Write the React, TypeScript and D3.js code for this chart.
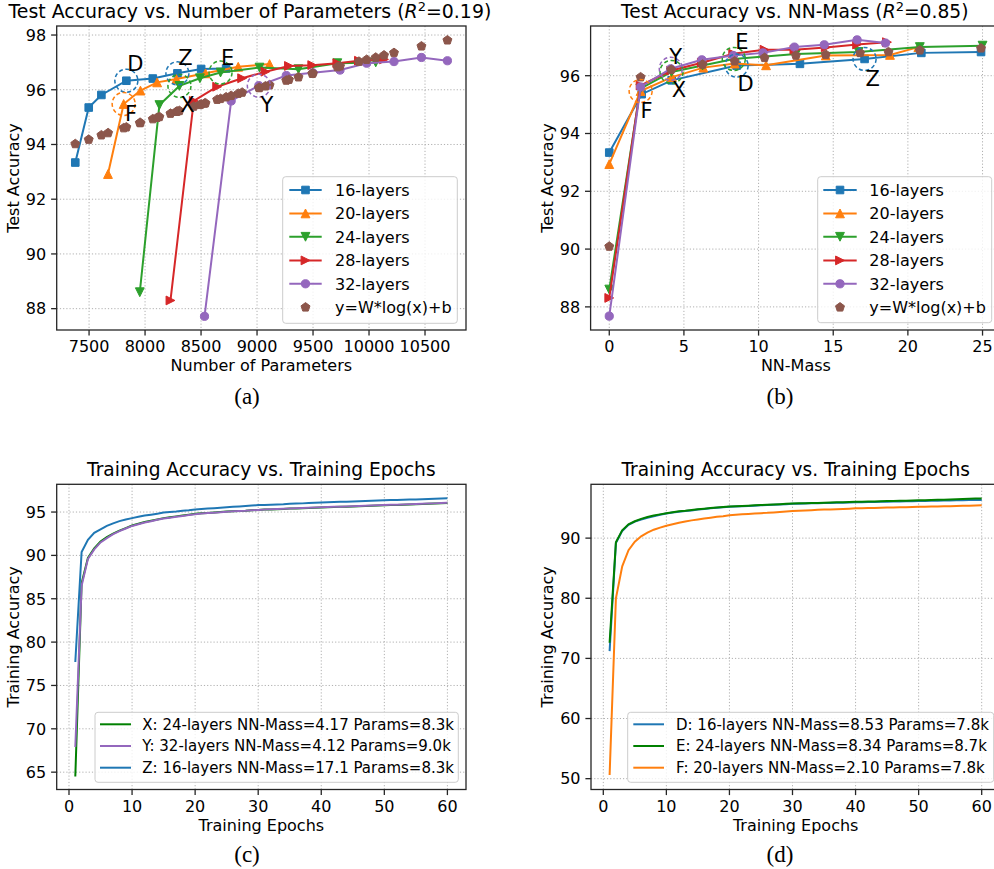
import React from 'react';
import * as d3 from 'd3';

// ---------- colours ----------
const BLUE = '#1f77b4', ORANGE = '#ff7f0e', GREEN = '#2ca02c', RED = '#d62728', PURPLE = '#9467bd', BROWN = '#8c564b', DGREEN = '#008000';

// ---------- (a) Test accuracy vs number of parameters ----------
const params16 = [7377, 7497, 7610, 7833, 8069, 8289, 8501, 8724];
const acc16a = [93.34, 95.35, 95.81, 96.33, 96.41, 96.6, 96.76, 96.78];
const params20 = [7669, 7809, 7959, 8108, 8280, 8540, 8832, 9112];
const acc20a = [92.92, 95.48, 95.97, 96.27, 96.39, 96.6, 96.84, 96.94];
const params24 = [7953, 8128, 8307, 8490, 8674, 9022, 9370, 9717, 10060];
const acc24a = [88.6, 95.44, 96.14, 96.42, 96.63, 96.81, 96.75, 96.97, 97.0];
const params28 = [8227, 8435, 8644, 8867, 9075, 9285, 9493, 9717, 9910, 10134];
const acc28a = [88.3, 95.59, 96.11, 96.42, 96.66, 96.87, 96.9, 96.97, 97.06, 97.11];
const params32 = [8531, 8769, 9016, 9261, 9499, 9741, 9979, 10223, 10468, 10700];
const acc32a = [87.72, 95.59, 96.15, 96.52, 96.62, 96.72, 96.97, 97.03, 97.18, 97.06];
const fitParamsA = [7377, 7497, 7610, 7670, 7809, 7833, 7953, 7959, 8069, 8108, 8128, 8227, 8280, 8289, 8307, 8435, 8490, 8501, 8531, 8540, 8644, 8674, 8724, 8769, 8832, 8867, 9016, 9022, 9075, 9112, 9261, 9285, 9370, 9493, 9499, 9717, 9741, 9910, 9979, 10060, 10134, 10223, 10468, 10700];
const fitAccA = [94.02, 94.18, 94.34, 94.42, 94.6, 94.63, 94.79, 94.79, 94.93, 94.98, 95.01, 95.13, 95.2, 95.21, 95.23, 95.39, 95.45, 95.47, 95.5, 95.51, 95.64, 95.67, 95.73, 95.78, 95.86, 95.9, 96.07, 96.07, 96.13, 96.17, 96.34, 96.37, 96.46, 96.59, 96.6, 96.83, 96.86, 97.03, 97.1, 97.18, 97.26, 97.35, 97.59, 97.81];
const xTicksA = [7500, 8000, 8500, 9000, 9500, 10000, 10500];
const yTicksA = [88, 90, 92, 94, 96, 98];

// ---------- (b) Test accuracy vs NN-Mass ----------
const mass16 = [0, 2.17, 4.18, 8.53, 12.77, 17.1, 20.9, 24.9];
const acc16b = [93.34, 95.36, 95.84, 96.35, 96.41, 96.58, 96.79, 96.82];
const mass20 = [0, 2.1, 4.2, 6.3, 8.4, 10.5, 14.5, 18.8, 20.7];
const acc20b = [92.94, 95.47, 95.95, 96.28, 96.42, 96.36, 96.7, 96.72, 96.99];
const mass24 = [0, 2.08, 4.17, 6.25, 8.34, 12.5, 16.7, 20.8, 25];
const acc24b = [88.6, 95.55, 96.13, 96.35, 96.58, 96.75, 96.82, 96.99, 97.04];
const mass28 = [0, 2.1, 4.15, 6.2, 8.3, 10.4, 12.4, 14.5, 16.6, 18.6];
const acc28b = [88.31, 95.66, 96.18, 96.45, 96.76, 96.9, 96.9, 96.98, 97.08, 97.16];
const mass32 = [0, 2.1, 4.12, 6.2, 8.3, 10.3, 12.4, 14.4, 16.6, 18.5];
const acc32b = [87.68, 95.61, 96.24, 96.55, 96.7, 96.79, 96.99, 97.07, 97.24, 97.13];
const fitMassB = [0, 2.1, 4.15, 6.25, 8.4, 10.4, 12.5, 14.5, 16.8, 18.7, 20.8, 24.9];
const fitAccB = [90.09, 95.95, 96.21, 96.39, 96.5, 96.62, 96.7, 96.73, 96.79, 96.82, 96.88, 96.95];
const xTicksB = [0, 5, 10, 15, 20, 25];
const yTicksB = [88, 90, 92, 94, 96];

// ---------- (c) training curves X, Y, Z ----------
const epochs = d3.range(1, 61);
const trainX = [64.5, 86.8, 89.7, 90.8, 91.6, 92.1, 92.5, 92.85, 93.15, 93.45, 93.65, 93.85, 94.0, 94.15, 94.3, 94.4, 94.5, 94.6, 94.7, 94.8, 94.85, 94.9, 94.95, 95.0, 95.05, 95.1, 95.12, 95.15, 95.2, 95.25, 95.28, 95.3, 95.33, 95.36, 95.4, 95.42, 95.45, 95.48, 95.5, 95.53, 95.55, 95.58, 95.6, 95.62, 95.65, 95.68, 95.7, 95.72, 95.75, 95.78, 95.8, 95.82, 95.85, 95.88, 95.9, 95.92, 95.95, 95.98, 96.0, 96.05];
const trainY = [67.9, 86.5, 89.6, 90.7, 91.5, 92.0, 92.45, 92.8, 93.1, 93.4, 93.6, 93.8, 93.95, 94.1, 94.25, 94.35, 94.45, 94.55, 94.65, 94.75, 94.82, 94.88, 94.93, 94.98, 95.03, 95.08, 95.12, 95.15, 95.2, 95.24, 95.28, 95.31, 95.34, 95.37, 95.4, 95.43, 95.46, 95.49, 95.52, 95.55, 95.57, 95.6, 95.62, 95.65, 95.68, 95.7, 95.73, 95.75, 95.78, 95.8, 95.83, 95.85, 95.88, 95.9, 95.93, 95.95, 95.98, 96.0, 96.03, 96.06];
const trainZ = [77.7, 90.4, 91.8, 92.6, 93.0, 93.4, 93.7, 93.95, 94.15, 94.3, 94.45, 94.6, 94.7, 94.8, 94.95, 95.0, 95.05, 95.15, 95.2, 95.3, 95.35, 95.4, 95.45, 95.5, 95.55, 95.6, 95.65, 95.7, 95.75, 95.8, 95.82, 95.85, 95.88, 95.9, 95.95, 95.98, 96.0, 96.05, 96.08, 96.1, 96.12, 96.15, 96.18, 96.2, 96.22, 96.25, 96.27, 96.3, 96.32, 96.35, 96.38, 96.4, 96.42, 96.44, 96.46, 96.48, 96.5, 96.52, 96.55, 96.58];
const xTicksC = [0, 10, 20, 30, 40, 50, 60];
const yTicksC = [65, 70, 75, 80, 85, 90, 95];

// ---------- (d) training curves D, E, F ----------
const trainD = [71.2, 89.2, 91.2, 92.2, 92.75, 93.1, 93.4, 93.65, 93.9, 94.1, 94.25, 94.4, 94.5, 94.6, 94.75, 94.85, 94.95, 95.05, 95.12, 95.2, 95.25, 95.3, 95.35, 95.4, 95.45, 95.5, 95.55, 95.6, 95.65, 95.7, 95.72, 95.75, 95.78, 95.8, 95.83, 95.86, 95.88, 95.9, 95.92, 95.95, 95.97, 96.0, 96.02, 96.04, 96.06, 96.08, 96.1, 96.12, 96.14, 96.16, 96.18, 96.2, 96.22, 96.24, 96.26, 96.28, 96.3, 96.32, 96.34, 96.36];
const trainE = [72.6, 89.3, 91.3, 92.3, 92.8, 93.2, 93.5, 93.75, 93.95, 94.15, 94.3, 94.45, 94.55, 94.68, 94.8, 94.9, 95.0, 95.1, 95.18, 95.25, 95.3, 95.35, 95.4, 95.45, 95.5, 95.55, 95.6, 95.65, 95.7, 95.75, 95.78, 95.8, 95.83, 95.86, 95.9, 95.92, 95.95, 95.98, 96.0, 96.03, 96.06, 96.08, 96.1, 96.13, 96.16, 96.18, 96.2, 96.23, 96.26, 96.28, 96.31, 96.34, 96.37, 96.4, 96.43, 96.46, 96.5, 96.53, 96.57, 96.6];
const trainF = [50.6, 80.0, 85.3, 88.0, 89.4, 90.3, 90.9, 91.4, 91.75, 92.05, 92.3, 92.55, 92.75, 92.95, 93.1, 93.25, 93.4, 93.55, 93.65, 93.8, 93.88, 93.95, 94.02, 94.08, 94.15, 94.2, 94.28, 94.35, 94.42, 94.5, 94.55, 94.6, 94.65, 94.7, 94.75, 94.78, 94.82, 94.86, 94.9, 94.95, 94.97, 95.0, 95.02, 95.05, 95.08, 95.1, 95.12, 95.15, 95.18, 95.2, 95.22, 95.25, 95.27, 95.3, 95.32, 95.35, 95.37, 95.4, 95.42, 95.45];
const xTicksD = [0, 10, 20, 30, 40, 50, 60];
const yTicksD = [50, 60, 70, 80, 90];

const FONT = 'DejaVu Sans, sans-serif';
const SERIF = 'Liberation Serif, Times New Roman, serif';

type Shape = 's' | '^' | 'v' | '>' | 'o' | 'p';
function markerPath(shape: Shape, cx: number, cy: number): string {
  const h = 4.4;
  switch (shape) {
    case 's': { const s = 3.8; return `M${cx - s},${cy - s}h${2 * s}v${2 * s}h${-2 * s}Z`; }
    case '^': return `M${cx},${cy - h}L${cx + h},${cy + h}L${cx - h},${cy + h}Z`;
    case 'v': return `M${cx},${cy + h}L${cx + h},${cy - h}L${cx - h},${cy - h}Z`;
    case '>': return `M${cx + h},${cy}L${cx - h},${cy - h}L${cx - h},${cy + h}Z`;
    case 'o': { const r = 4.1; return `M${cx - r},${cy}a${r},${r} 0 1,0 ${2 * r},0a${r},${r} 0 1,0 ${-2 * r},0Z`; }
    case 'p': {
      const r = 4.7;
      const pts = d3.range(5).map(k => { const a = -Math.PI / 2 + k * 2 * Math.PI / 5; return [cx + r * Math.cos(a), cy + r * Math.sin(a)]; });
      return 'M' + pts.map(p => p.join(',')).join('L') + 'Z';
    }
  }
  return '';
}

type Frame = { l: number; t: number; r: number; b: number };

function Axes({ f, xs, ys, xTicks, yTicks, title, titleX, titleAnchor, titleSize, xLabel, yLabel, children }: any) {
  return (
    <g>
      {xTicks.map((v: number) => (
        <line key={'gx' + v} x1={xs(v)} x2={xs(v)} y1={f.t} y2={f.b} stroke="#b0b0b0" strokeWidth={1} strokeDasharray="1.2,2" />
      ))}
      {yTicks.map((v: number) => (
        <line key={'gy' + v} x1={f.l} x2={f.r} y1={ys(v)} y2={ys(v)} stroke="#b0b0b0" strokeWidth={1} strokeDasharray="1.2,2" />
      ))}
      {children}
      <rect x={f.l} y={f.t} width={f.r - f.l} height={f.b - f.t} fill="none" stroke="#262626" strokeWidth={1.3} />
      {xTicks.map((v: number) => (
        <g key={'tx' + v}>
          <line x1={xs(v)} x2={xs(v)} y1={f.b} y2={f.b + 5.6} stroke="#262626" strokeWidth={1.3} />
          <text x={xs(v)} y={f.b + 22} textAnchor="middle" fontSize={16} fontFamily={FONT}>{v}</text>
        </g>
      ))}
      {yTicks.map((v: number) => (
        <g key={'ty' + v}>
          <line x1={f.l - 5.6} x2={f.l} y1={ys(v)} y2={ys(v)} stroke="#262626" strokeWidth={1.3} />
          <text x={f.l - 10.5} y={ys(v) + 5.8} textAnchor="end" fontSize={16} fontFamily={FONT}>{v}</text>
        </g>
      ))}
      <text x={titleX ?? (f.l + f.r) / 2} y={f.t - 8} textAnchor={titleAnchor ?? 'middle'} fontSize={titleSize ?? 18.6} fontFamily={FONT}>{title}</text>
      <text x={(f.l + f.r) / 2} y={f.b + 41} textAnchor="middle" fontSize={16} fontFamily={FONT}>{xLabel}</text>
      <text transform={`translate(${f.l - 38},${(f.t + f.b) / 2}) rotate(-90)`} textAnchor="middle" fontSize={16} fontFamily={FONT}>{yLabel}</text>
    </g>
  );
}

function Series({ xs, ys, xv, yv, color, shape }: any) {
  const line = d3.line<number>().x((_, i) => xs(xv[i])).y(d => ys(d));
  return (
    <g>
      <path d={line(yv) || ''} fill="none" stroke={color} strokeWidth={2} />
      {yv.map((v: number, i: number) => (
        <path key={i} d={markerPath(shape, xs(xv[i]), ys(v))} fill={color} stroke={color} strokeWidth={1} />
      ))}
    </g>
  );
}

function Legend({ x, y, w, h, rows, lineX1, lineX2, textX, fs }: any) {
  return (
    <g>
      <rect x={x} y={y} width={w} height={h} rx={3} fill="white" fillOpacity={0.8} stroke="#cccccc" strokeWidth={1} />
      {rows.map((r: any, i: number) => (
        <g key={i}>
          {r.line !== false && <line x1={lineX1} x2={lineX2} y1={r.y} y2={r.y} stroke={r.color} strokeWidth={2} />}
          {r.shape && <path d={markerPath(r.shape, (lineX1 + lineX2) / 2, r.y)} fill={r.color} stroke={r.color} />}
          <text x={textX} y={r.y + fs * 0.36} fontSize={fs} fontFamily={FONT}>{r.label}</text>
        </g>
      ))}
    </g>
  );
}

function Mark({ cx, cy, color, label, dx, dy }: any) {
  return (
    <g>
      <circle cx={cx} cy={cy} r={11.5} fill="none" stroke={color} strokeWidth={1.5} strokeDasharray="4,2.6" />
      <text x={cx + dx} y={cy + dy} textAnchor="middle" fontSize={21} fontFamily={FONT}>{label}</text>
    </g>
  );
}

export default function App() {
  const fA: Frame = { l: 56.7, t: 26, r: 466, b: 330 };
  const xA = d3.scaleLinear().domain([7211, 10866]).range([fA.l, fA.r]);
  const yA = d3.scaleLinear().domain([87.22, 98.33]).range([fA.b, fA.t]);
  const fB: Frame = { l: 590.6, t: 26, r: 1001.2, b: 330 };
  const xB = d3.scaleLinear().domain([-1.25, 26.25]).range([fB.l, fB.r]);
  const yB = d3.scaleLinear().domain([87.2, 97.72]).range([fB.b, fB.t]);
  const fC: Frame = { l: 56.7, t: 484.3, r: 466, b: 789.5 };
  const xC = d3.scaleLinear().domain([-1.95, 62.95]).range([fC.l, fC.r]);
  const yC = d3.scaleLinear().domain([63.0, 98.2]).range([fC.b, fC.t]);
  const fD: Frame = { l: 591, t: 484.3, r: 1000.3, b: 789.5 };
  const xD = d3.scaleLinear().domain([-1.95, 62.95]).range([fD.l, fD.r]);
  const yD = d3.scaleLinear().domain([48.2, 98.95]).range([fD.b, fD.t]);
  const lineC = (xs: any, ys: any) => d3.line<number>().x((_, i) => xs(epochs[i])).y(d => ys(d));

  const legRowsAB = (ys0: number[]) => [
    { label: '16-layers', color: BLUE, shape: 's', y: ys0[0] },
    { label: '20-layers', color: ORANGE, shape: '^', y: ys0[1] },
    { label: '24-layers', color: GREEN, shape: 'v', y: ys0[2] },
    { label: '28-layers', color: RED, shape: '>', y: ys0[3] },
    { label: '32-layers', color: PURPLE, shape: 'o', y: ys0[4] },
    { label: 'y=W*log(x)+b', color: BROWN, shape: 'p', y: ys0[5], line: false },
  ];
  const legY = [190, 213.4, 236.8, 260.4, 283.8, 307.3];

  return (
    <svg width={994} height={869} style={{ position: 'absolute', left: 0, top: 0, background: 'white' }}>
      <rect x={0} y={0} width={994} height={869} fill="white" />
      {/* (a) */}
      <Axes f={fA} xs={xA} ys={yA} xTicks={xTicksA} yTicks={yTicksA} titleX={8.5} titleAnchor="start" titleSize={18.9}
        title={<>Test Accuracy vs. Number of Parameters (<tspan fontStyle="italic">R</tspan><tspan dy={-7} fontSize={13}>2</tspan><tspan dy={7}>=0.19)</tspan></>}
        xLabel="Number of Parameters" yLabel="Test Accuracy">
        <Series xs={xA} ys={yA} xv={params16} yv={acc16a} color={BLUE} shape="s" />
        <Series xs={xA} ys={yA} xv={params20} yv={acc20a} color={ORANGE} shape="^" />
        <Series xs={xA} ys={yA} xv={params24} yv={acc24a} color={GREEN} shape="v" />
        <Series xs={xA} ys={yA} xv={params28} yv={acc28a} color={RED} shape=">" />
        <Series xs={xA} ys={yA} xv={params32} yv={acc32a} color={PURPLE} shape="o" />
        {fitAccA.map((v, i) => (
          <path key={i} d={markerPath('p', xA(fitParamsA[i]), yA(v))} fill={BROWN} stroke={BROWN} />
        ))}
        <Mark cx={xA(params16[3])} cy={yA(acc16a[3])} color={BLUE} label="D" dx={9} dy={-10} />
        <Mark cx={xA(params16[5])} cy={yA(acc16a[5])} color={BLUE} label="Z" dx={8} dy={-8} />
        <Mark cx={xA(params24[4])} cy={yA(acc24a[4])} color={GREEN} label="E" dx={7} dy={-8} />
        <Mark cx={xA(params20[1])} cy={yA(acc20a[1])} color={ORANGE} label="F" dx={7.5} dy={17.5} />
        <Mark cx={xA(params24[2])} cy={yA(acc24a[2])} color={GREEN} label="X" dx={8} dy={26} />
        <Mark cx={xA(params32[2])} cy={yA(acc32a[2])} color={PURPLE} label="Y" dx={8} dy={26} />
        <Legend x={282.7} y={176.7} w={174.6} h={146.6} rows={legRowsAB(legY)} lineX1={289.3} lineX2={321.7} textX={335} fs={16} />
      </Axes>

      {/* (b) */}
      <Axes f={fB} xs={xB} ys={yB} xTicks={xTicksB} yTicks={yTicksB} titleX={621} titleAnchor="start" titleSize={18.7}
        title={<>Test Accuracy vs. NN-Mass (<tspan fontStyle="italic">R</tspan><tspan dy={-7} fontSize={13}>2</tspan><tspan dy={7}>=0.85)</tspan></>}
        xLabel="NN-Mass" yLabel="Test Accuracy">
        <Series xs={xB} ys={yB} xv={mass16} yv={acc16b} color={BLUE} shape="s" />
        <Series xs={xB} ys={yB} xv={mass20} yv={acc20b} color={ORANGE} shape="^" />
        <Series xs={xB} ys={yB} xv={mass24} yv={acc24b} color={GREEN} shape="v" />
        <Series xs={xB} ys={yB} xv={mass28} yv={acc28b} color={RED} shape=">" />
        <Series xs={xB} ys={yB} xv={mass32} yv={acc32b} color={PURPLE} shape="o" />
        {fitAccB.map((v, i) => (
          <path key={i} d={markerPath('p', xB(fitMassB[i]), yB(v))} fill={BROWN} stroke={BROWN} />
        ))}
        <Mark cx={xB(mass16[3])} cy={yB(acc16b[3])} color={BLUE} label="D" dx={9} dy={25} />
        <Mark cx={xB(mass24[4])} cy={yB(acc24b[4])} color={GREEN} label="E" dx={8} dy={-10} />
        <Mark cx={xB(mass16[5])} cy={yB(acc16b[5])} color={BLUE} label="Z" dx={8} dy={27} />
        <Mark cx={xB(mass20[1])} cy={yB(acc20b[1])} color={ORANGE} label="F" dx={6} dy={27} />
        <Mark cx={xB(mass24[2])} cy={yB(acc24b[2])} color={GREEN} label="X" dx={7.5} dy={25} />
        <Mark cx={xB(mass32[2])} cy={yB(acc32b[2])} color={PURPLE} label="Y" dx={5} dy={-5} />
        <Legend x={817.7} y={176.7} w={174} h={146} rows={legRowsAB(legY)} lineX1={823.3} lineX2={856.7} textX={869.3} fs={16} />
      </Axes>

      {/* (c) */}
      <Axes f={fC} xs={xC} ys={yC} xTicks={xTicksC} yTicks={yTicksC}
        title="Training Accuracy vs. Training Epochs" xLabel="Training Epochs" yLabel="Training Accuracy">
        <path d={lineC(xC, yC)(trainX) || ''} fill="none" stroke={DGREEN} strokeWidth={2} />
        <path d={lineC(xC, yC)(trainY) || ''} fill="none" stroke={PURPLE} strokeWidth={2} />
        <path d={lineC(xC, yC)(trainZ) || ''} fill="none" stroke={BLUE} strokeWidth={2} />
        <Legend x={95} y={712.3} w={363.3} h={70} lineX1={100} lineX2={131} textX={142.3} fs={15}
          rows={[
            { label: 'X: 24-layers NN-Mass=4.17 Params=8.3k', color: DGREEN, y: 724.3 },
            { label: 'Y: 32-layers NN-Mass=4.12 Params=9.0k', color: PURPLE, y: 746 },
            { label: 'Z: 16-layers NN-Mass=17.1 Params=8.3k', color: BLUE, y: 767.7 },
          ]} />
      </Axes>

      {/* (d) */}
      <Axes f={fD} xs={xD} ys={yD} xTicks={xTicksD} yTicks={yTicksD}
        title="Training Accuracy vs. Training Epochs" xLabel="Training Epochs" yLabel="Training Accuracy">
        <path d={lineC(xD, yD)(trainD) || ''} fill="none" stroke={BLUE} strokeWidth={2} />
        <path d={lineC(xD, yD)(trainE) || ''} fill="none" stroke={DGREEN} strokeWidth={2} />
        <path d={lineC(xD, yD)(trainF) || ''} fill="none" stroke={ORANGE} strokeWidth={2} />
        <Legend x={627.7} y={712.3} w={366} h={70} lineX1={633.3} lineX2={664} textX={676} fs={15}
          rows={[
            { label: 'D: 16-layers NN-Mass=8.53 Params=7.8k', color: BLUE, y: 724.3 },
            { label: 'E: 24-layers NN-Mass=8.34 Params=8.7k', color: DGREEN, y: 746 },
            { label: 'F: 20-layers NN-Mass=2.10 Params=7.8k', color: ORANGE, y: 767.7 },
          ]} />
      </Axes>

      {/* captions */}
      <text x={247} y={404} textAnchor="middle" fontSize={23} fontFamily={SERIF}>(a)</text>
      <text x={780} y={404} textAnchor="middle" fontSize={23} fontFamily={SERIF}>(b)</text>
      <text x={247} y={862} textAnchor="middle" fontSize={23} fontFamily={SERIF}>(c)</text>
      <text x={780} y={862} textAnchor="middle" fontSize={23} fontFamily={SERIF}>(d)</text>
    </svg>
  );
}
